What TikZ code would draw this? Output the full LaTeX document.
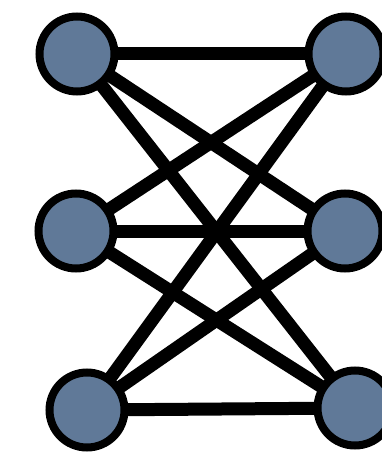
\documentclass[tikz,border=0pt]{standalone}
\usepackage{xcolor}
\definecolor{nodeBlue}{RGB}{96,121,152}
\usepackage{tikz}
\usetikzlibrary{
  positioning,
  backgrounds
}
\tikzset{
  graphnode/.style={
    circle,
    draw=black,
    fill=nodeBlue,
    line width=8pt,
    minimum size=75pt,
    inner sep=0pt
  },
  graphedge/.style={
    line width=13pt,
    black
  }
}
\begin{document}
\begin{tikzpicture}[x=1pt,y=-1pt]
  \useasboundingbox (0,0) rectangle (381,454);
  % Lado esquerdo e lado direito
  \node[graphnode] (l1) at (77,54) {};
  \node[graphnode] (l2) at (76,231) {};
  \node[graphnode] (l3) at (87,410) {};
  \node[graphnode] (r1) at (346,54) {};
  \node[graphnode] (r2) at (345,231) {};
  \node[graphnode] (r3) at (355,408) {};

  % Arestas (grafo bipartido completo) por baixo dos nós
  \begin{scope}[on background layer]
    \foreach \a in {l1,l2,l3}
      \foreach \b in {r1,r2,r3}
        \draw[graphedge] (\a.center) -- (\b.center);
  \end{scope}
\end{tikzpicture}
\end{document}
